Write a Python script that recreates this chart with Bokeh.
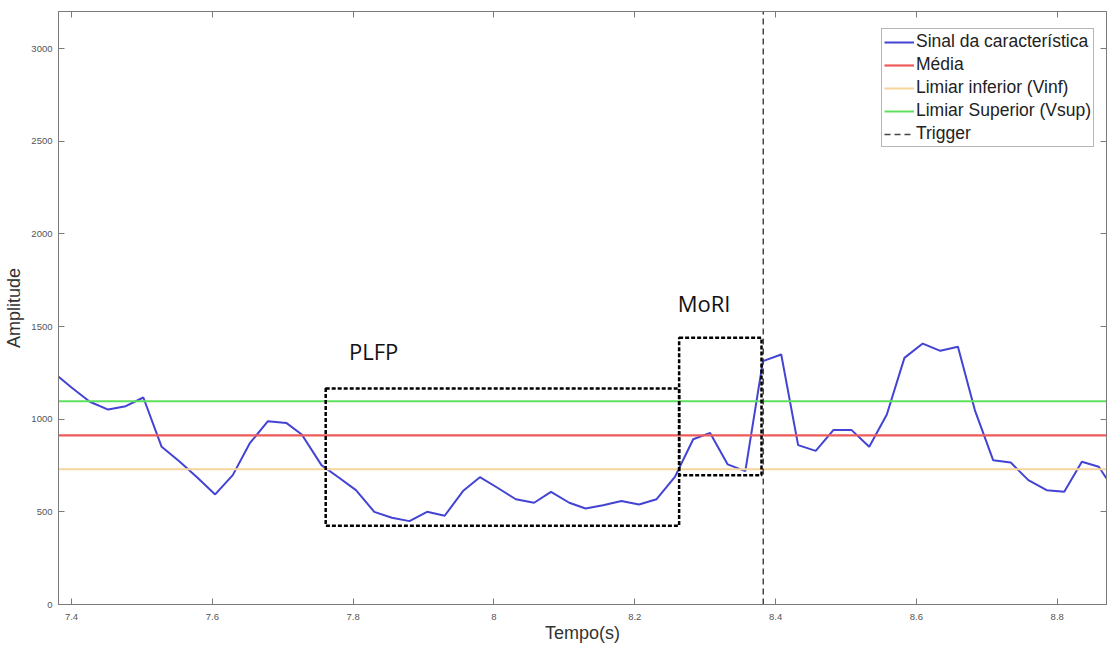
from bokeh.plotting import figure
from bokeh.models import Range1d, FixedTicker, LinearAxis, Legend, LegendItem, Label
from bokeh.embed import file_html
from bokeh.resources import INLINE

# ---------------- data ----------------
tempo = [7.375, 7.400, 7.426, 7.452, 7.477, 7.502, 7.528, 7.553, 7.579, 7.604,
         7.629, 7.653, 7.679, 7.705, 7.727, 7.755, 7.780, 7.804, 7.830, 7.855,
         7.880, 7.905, 7.930, 7.956, 7.980, 8.005, 8.031, 8.057, 8.081, 8.107,
         8.130, 8.155, 8.181, 8.206, 8.231, 8.257, 8.283, 8.307, 8.332, 8.357,
         8.382, 8.408, 8.432, 8.457, 8.482, 8.508, 8.533, 8.558, 8.583, 8.609,
         8.634, 8.659, 8.683, 8.709, 8.734, 8.759, 8.785, 8.810, 8.835, 8.859,
         8.884]
sinal = [1250, 1171, 1094, 1052, 1070, 1117, 851, 773, 684, 594,
         698, 869, 989, 980, 917, 752, 684, 617, 500, 468,
         450, 500, 479, 612, 687, 630, 568, 549, 608, 549,
         518, 536, 558, 540, 568, 689, 892, 926, 756, 720,
         1313, 1349, 860, 829, 941, 941, 851, 1025, 1331, 1408,
         1369, 1391, 1049, 779, 766, 671, 617, 608, 770, 743,
         600]
media = 913
limiar_inf = 730
limiar_sup = 1097
trigger_t = 8.3825

box_names = ["PLFP", "MoRI"]
box_t0 = [7.761, 8.263]
box_t1 = [8.263, 8.380]
box_v0 = [425, 698]
box_v1 = [1166, 1439]

legend_labels = ["Sinal da característica", "Média", "Limiar inferior (Vinf)",
                 "Limiar Superior (Vsup)", "Trigger"]

x_ticks = [7.4, 7.6, 7.8, 8.0, 8.2, 8.4, 8.6, 8.8]
x_tick_labels = ["7.4", "7.6", "7.8", "8", "8.2", "8.4", "8.6", "8.8"]
y_ticks = [0, 500, 1000, 1500, 2000, 2500, 3000]

X0, X1 = 7.3815, 8.870
Y0, Y1 = 0, 3200

# ---------------- styles / positions ----------------
FONT = "Liberation Sans"
AX_COL = "#7a7a7a"
TXT_COL = "#555555"
LBL_COL = "#333333"

p = figure(width=1107, height=645, x_range=Range1d(X0, X1), y_range=Range1d(Y0, Y1),
           output_backend="svg", toolbar_location=None,
           min_border_left=58, min_border_right=1, min_border_top=11, min_border_bottom=41,
           background_fill_color="white", border_fill_color="white")
p.grid.visible = False
p.outline_line_color = AX_COL
p.outline_line_width = 1

for ax, ticks in ((p.xaxis[0], x_ticks), (p.yaxis[0], y_ticks)):
    ax.ticker = FixedTicker(ticks=ticks)
    ax.minor_tick_line_color = None
    ax.major_tick_in = 6
    ax.major_tick_out = 0
    ax.axis_line_color = AX_COL
    ax.major_tick_line_color = AX_COL
    ax.major_label_text_font = FONT
    ax.major_label_text_font_size = "9.5px"
    ax.major_label_text_color = TXT_COL
    ax.axis_label_text_font = FONT
    ax.axis_label_text_font_size = "18px"
    ax.axis_label_text_font_style = "normal"
    ax.axis_label_text_color = LBL_COL

p.xaxis[0].major_label_overrides = {t: s for t, s in zip(x_ticks, x_tick_labels)}
p.xaxis[0].axis_label = "Tempo(s)"
p.xaxis[0].major_label_standoff = 9
p.xaxis[0].axis_label_standoff = 0
p.yaxis[0].axis_label = "Amplitude"
p.yaxis[0].major_label_standoff = 6
p.yaxis[0].axis_label_standoff = 4

top_ax = LinearAxis(ticker=FixedTicker(ticks=x_ticks), major_label_text_font_size="1px",
                    major_label_text_color=None,
                    major_label_standoff=0, major_tick_in=6, major_tick_out=0,
                    minor_tick_line_color=None, axis_line_color=AX_COL,
                    major_tick_line_color=AX_COL)
right_ax = LinearAxis(ticker=FixedTicker(ticks=y_ticks), major_label_text_font_size="1px",
                      major_label_text_color=None,
                      major_label_standoff=0, major_tick_in=6, major_tick_out=0,
                      minor_tick_line_color=None, axis_line_color=AX_COL,
                      major_tick_line_color=AX_COL)
p.add_layout(top_ax, "above")
p.add_layout(right_ax, "right")

r_sig = p.line(tempo, sinal, line_color="#4343d4", line_width=2)
r_med = p.line([tempo[0], tempo[-1]], [media, media], line_color="#ef5b5b", line_width=2.2)
r_inf = p.line([tempo[0], tempo[-1]], [limiar_inf, limiar_inf], line_color="#f5d59a", line_width=2)
r_sup = p.line([tempo[0], tempo[-1]], [limiar_sup, limiar_sup], line_color="#5ee05e", line_width=2)
r_trg = p.line([trigger_t, trigger_t], [Y0, Y1], line_color="#444444", line_width=1.5,
               line_dash="6 4")

p.quad(left=box_t0, right=box_t1, bottom=box_v0, top=box_v1, fill_alpha=0,
       line_color="black", line_width=2.5, line_dash="4 2")

# box titles
p.add_layout(Label(x=7.794, y=1366, text=box_names[0], text_font="Open Sans",
                   text_font_size="22px", text_color="#111111", text_baseline="alphabetic"))
p.add_layout(Label(x=8.261, y=1628, text=box_names[1], text_font="Open Sans",
                   text_font_size="22px", text_color="#111111", text_baseline="alphabetic"))

legend = Legend(items=[LegendItem(label=l, renderers=[r]) for l, r in
                       zip(legend_labels, [r_sig, r_med, r_inf, r_sup, r_trg])],
                location=(823, 457), glyph_width=30, glyph_height=20, label_height=20,
                label_standoff=2, spacing=2, padding=2, margin=0,
                label_text_font=FONT, label_text_font_size="17.5px", label_text_color="#222222",
                border_line_color="#6e6e6e", border_line_width=1,
                background_fill_color="white", background_fill_alpha=1)
p.add_layout(legend, "center")

open("out.html", "w").write(file_html(p, INLINE))
